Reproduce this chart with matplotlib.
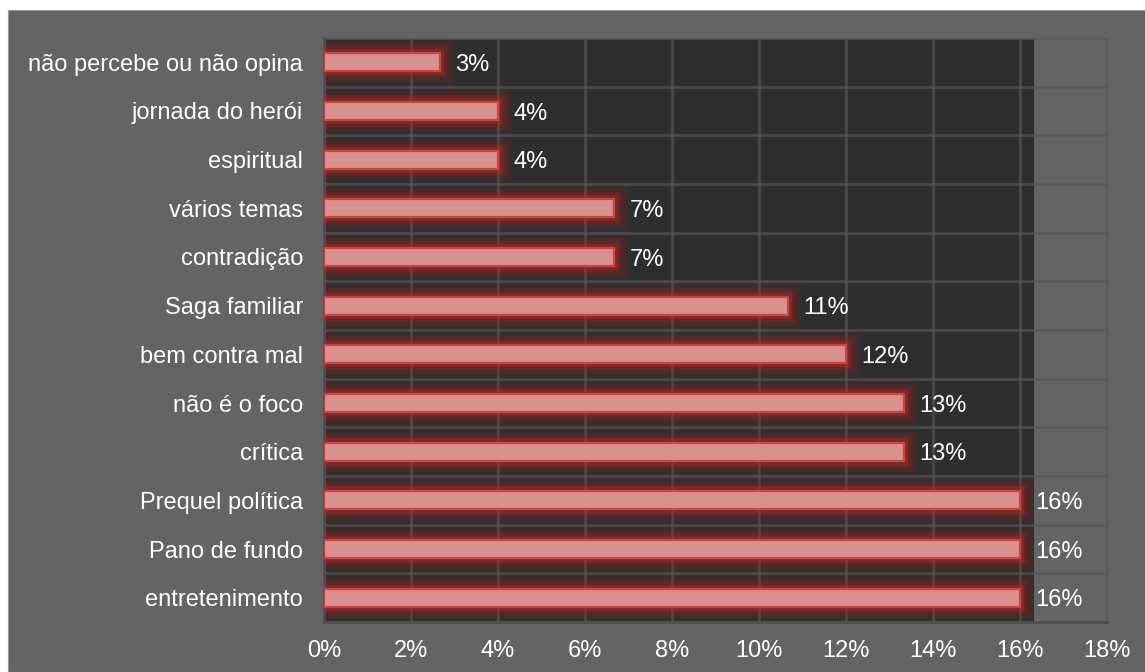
import numpy as np
import matplotlib
matplotlib.use("Agg")
import matplotlib.pyplot as plt
import matplotlib.patheffects as pe
from matplotlib.patches import Rectangle

# share of answers per theme (percent), top to bottom
categories = ["não percebe ou não opina", "jornada do herói", "espiritual",
              "vários temas", "contradição", "Saga familiar", "bem contra mal",
              "não é o foco", "crítica", "Prequel política", "Pano de fundo",
              "entretenimento"]
values = [2.67, 4.0, 4.0, 6.67, 6.67, 10.67, 12.0, 13.33, 13.33, 16.0, 16.0, 16.0]
xticks = [0, 2, 4, 6, 8, 10, 12, 14, 16, 18]

outer = "#636466"
dark = "#2e2e2e"

plt.rcParams["font.family"] = ["Liberation Sans", "DejaVu Sans"]

fig = plt.figure(figsize=(11.45, 6.72), dpi=100, facecolor="white")
fig.patches.append(Rectangle((8 / 1145, 0), 1, 1 - 10 / 672, transform=fig.transFigure,
                             facecolor=outer, edgecolor="#9a9a9a", linewidth=0.8, zorder=-1))

ax = fig.add_axes([324 / 1145, 1 - 622 / 672, (1107 - 324) / 1145, (622 - 38) / 672])
ax.set_facecolor(outer)

y = np.arange(len(categories))
ax.set_xlim(0, 18)
ax.set_ylim(len(categories) - 0.5, -0.5)

# dark plotting band
ax.axvspan(0, 16.32, color=dark, zorder=0.1, linewidth=0)

bars = ax.barh(y, values, height=0.37, color="#d89090", edgecolor="#cc4444",
               linewidth=1.6, zorder=3)
for b in bars:
    b.set_path_effects([
        pe.Stroke(linewidth=20, foreground="#a01c1c", alpha=0.10),
        pe.Stroke(linewidth=15, foreground="#a82020", alpha=0.15),
        pe.Stroke(linewidth=10, foreground="#b02424", alpha=0.22),
        pe.Stroke(linewidth=6, foreground="#c02a2a", alpha=0.35),
        pe.Normal(),
    ])

for yi, v in zip(y, values):
    ax.text(v + 0.35, yi, f"{v:.0f}%", color="white", fontsize=17,
            va="center_baseline", ha="left", zorder=4)

ax.set_xticks(xticks)
ax.set_xticklabels([f"{t}%" for t in xticks])
ax.set_yticks(y)
ax.set_yticklabels(categories, va="center_baseline")
ax.set_yticks(np.arange(len(categories) + 1) - 0.5, minor=True)

ax.set_axisbelow(True)
ax.grid(axis="x", which="major", color="#575757", alpha=0.68, linewidth=2)
ax.grid(axis="y", which="minor", color="#575757", alpha=0.68, linewidth=2)

ax.tick_params(axis="both", which="both", length=0, colors="white", labelsize=17)
ax.tick_params(axis="y", pad=15)
ax.tick_params(axis="x", pad=13)

for side in ["top", "right"]:
    ax.spines[side].set_color("#5a5a5a")
    ax.spines[side].set_linewidth(1)
for side in ["left", "bottom"]:
    ax.spines[side].set_color("#4e4e4e")
    ax.spines[side].set_linewidth(2)

fig.savefig("out.png", dpi=100, facecolor=fig.get_facecolor())
